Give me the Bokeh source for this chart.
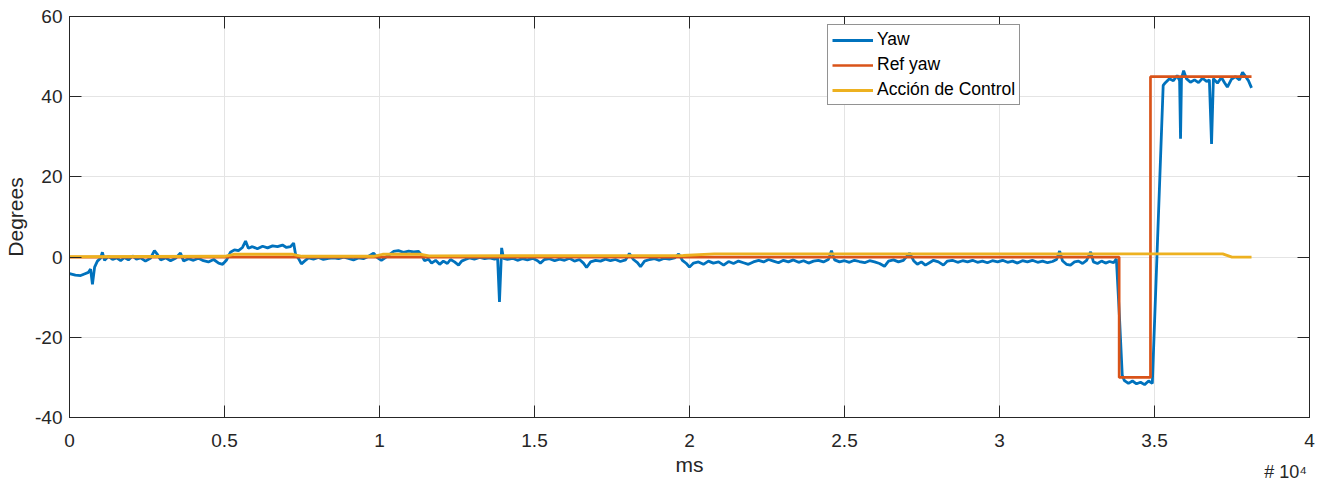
from bokeh.plotting import figure
from bokeh.models import (FixedTicker, LinearAxis, Legend, LegendItem, Range1d)
from bokeh.embed import file_html
from bokeh.resources import INLINE

# ---- data (ms, degrees) ----
yaw_t = [0, 190, 360, 480, 610, 680, 740, 810, 900, 1000, 1060, 1130, 1260, 1390, 1520,
         1650, 1770, 1900, 2030, 2160, 2290, 2450, 2610, 2740, 2840, 2940, 3100, 3260,
         3420, 3580, 3680, 3840, 4000, 4160, 4320, 4480, 4650, 4810, 4940, 5060, 5190,
         5320, 5450, 5580, 5680, 5770, 5900, 6060, 6230, 6390, 6550, 6710, 6870, 7000,
         7130, 7230, 7290, 7390, 7480, 7580, 7710, 7870, 8030, 8190, 8350, 8520, 8680,
         8840, 9000, 9160, 9320, 9480, 9650, 9810, 9940, 10060, 10190, 10320, 10450,
         10610, 10770, 10940, 11100, 11260, 11350, 11450, 11580, 11680, 11810, 11940,
         12060, 12190, 12290, 12420, 12550, 12650, 12770, 12900, 13060, 13230, 13390,
         13550, 13710, 13810, 13870, 13940, 14000, 14130, 14290, 14450, 14610, 14770,
         14940, 15100, 15190, 15320, 15480, 15650, 15810, 15970, 16130, 16290, 16450,
         16580, 16680, 16810, 16970, 17130, 17290, 17450, 17610, 17770, 17940, 18060,
         18190, 18320, 18420, 18550, 18710, 18870, 19030, 19190, 19350, 19520, 19650,
         19770, 19900, 20000, 20130, 20290, 20450, 20610, 20770, 20940, 21100, 21260,
         21420, 21580, 21740, 21900, 22060, 22230, 22390, 22550, 22710, 22870, 23030,
         23190, 23350, 23520, 23680, 23840, 24000, 24160, 24320, 24480, 24580, 24680,
         24840, 25000, 25160, 25320, 25480, 25650, 25810, 25970, 26130, 26290, 26420,
         26580, 26740, 26900, 27100, 27230, 27350, 27480, 27610, 27740, 27870, 28030,
         28190, 28320, 28480, 28650, 28810, 28970, 29130, 29290, 29450, 29610, 29770,
         29940, 30100, 30260, 30420, 30580, 30740, 30900, 31060, 31230, 31390, 31550,
         31710, 31840, 31940, 32030, 32160, 32290, 32420, 32550, 32680, 32810, 32940,
         33030, 33160, 33290, 33420, 33550, 33680, 33770, 33870, 33960, 34030, 34160,
         34290, 34420, 34550, 34680, 34810, 34930, 35280, 35350, 35480, 35610, 35730,
         35810, 35840, 35870, 35940, 36030, 36160, 36290, 36420, 36550, 36680, 36770,
         36840, 36900, 37030, 37160, 37260, 37350, 37480, 37610, 37740, 37840, 37940,
         38030, 38130]
yaw_v = [-4.1, -4.5, -4.6, -4.2, -3.8, -3.0, -6.8, -2.5, -1.0, -0.3, 1.2, -0.8, 0.2, -0.6, -0.2,
         -0.9, -0.1, -0.7, 0.3, -0.5, -0.2, -1.0, -0.3, 1.6, 0.6, -0.7, -0.2, -0.9,
         -0.3, 1.0, -1.0, -0.4, -0.8, -0.3, -0.9, -1.2, -0.6, -1.5, -1.8, -0.8, 1.2,
         1.8, 1.6, 2.4, 4.0, 2.2, 2.6, 2.1, 2.7, 2.3, 2.8, 2.6, 3.0, 2.4,
         2.6, 3.5, 0.8, -0.4, -1.7, -1.0, -0.2, -0.5, -0.1, -0.6, -0.3, -0.2, -0.4,
         0.0, -0.3, -0.7, -0.2, -0.4, 0.2, 1.0, -0.2, -0.8, -0.1, 0.6, 1.4,
         1.6, 1.2, 1.5, 1.3, 1.4, 0.6, -0.9, -0.5, -1.5, -0.8, -1.8,
         -1.0, -1.6, -0.6, -1.2, -2.0, -1.0, -0.6, -0.2, -0.5, -0.1, -0.4,
         -0.2, -0.5, -0.3, -11.2, 2.3, -0.3, -0.6, -0.3, -0.8, -0.4, -0.7,
         -0.3, -0.9, -1.5, -0.6, -0.4, -0.9, -0.5, -0.8, -0.3, -1.0, -0.6,
         -1.5, -2.6, -1.2, -0.8, -1.0, -0.5, -0.9, -0.6, -1.1, -0.7, 0.9,
         -0.6, -1.4, -2.4, -1.0, -0.6, -0.4, -0.8, -0.3, -0.5, -0.2, 0.8,
         -0.8, -1.6, -2.5, -1.5, -1.2, -1.8, -1.0, -1.5, -1.2, -2.0, -1.1,
         -1.6, -1.0, -1.4, -1.8, -1.2, -0.8, -1.2, -0.6, -1.0, -1.4, -0.8,
         -1.2, -0.7, -1.3, -0.9, -1.5, -1.0, -0.8, -1.2, -0.6, 1.6, -0.7,
         -1.2, -0.9, -1.3, -0.8, -1.1, -1.4, -0.9, -1.2, -1.6, -2.3, -1.0,
         -0.7, -1.2, -0.8, 1.0, -0.9, -1.8, -1.2, -2.0, -1.4, -0.8, -1.2,
         -2.0, -1.0, -0.8, -1.3, -0.9, -1.2, -0.8, -1.3, -1.0, -1.4, -0.9,
         -1.2, -0.8, -1.3, -1.0, -1.5, -0.9, -1.2, -0.8, -1.3, -1.0, -1.4,
         -1.1, -0.6, 1.5, -0.9, -1.8, -2.0, -1.2, -1.0, -1.6, -0.8, 1.3,
         -1.2, -1.6, -1.0, -1.5, -1.1, -1.4, -0.4, -15.0, -29.5, -30.8, -31.5,
         -30.9, -31.6, -31.2, -31.8, -30.9, -31.5, 42.8, 43.5, 44.5, 44.0, 45.3,
         44.0, 29.5, 44.5, 46.5, 44.5, 43.6, 44.2, 43.5, 44.6, 43.8, 44.2,
         28.2, 44.5, 43.4, 44.8, 43.5, 42.4, 44.3, 45.0, 44.2, 46.1, 45.0,
         44.0, 42.2]

ref_t = [0, 33860, 33860, 34870, 34870, 38130]
ref_v = [0, 0, -30, -30, 45, 45]

ctrl_t = [0, 5000, 5300, 7200, 7500, 9800, 10100, 11300, 11600, 19800, 20800, 37200, 37500, 38130]
ctrl_v = [0.1, 0.2, 0.7, 0.7, 0.2, 0.2, 0.7, 0.7, 0.3, 0.4, 0.8, 0.8, 0.0, 0.0]

x_ticks = [0, 5000, 10000, 15000, 20000, 25000, 30000, 35000, 40000]
x_tick_labels = ["0", "0.5", "1", "1.5", "2", "2.5", "3", "3.5", "4"]
y_ticks = [-40, -20, 0, 20, 40, 60]
y_tick_labels = ["-40", "-20", "0", "20", "40", "60"]
x_exponent_text = "# 10\u2074"
x_exponent_pos = [39230]

x_title = "ms"
y_title = "Degrees"
series_names = ["Yaw", "Ref yaw", "Acción de Control"]
series_colors = ["#0072BD", "#D95319", "#EDB120"]

FONT = "Liberation Sans"
AX = "#262626"

p = figure(width=1325, height=484, output_backend="svg", toolbar_location=None,
           x_range=Range1d(0, 40000), y_range=Range1d(-40, 60),
           min_border_left=69, min_border_right=16, min_border_top=16, min_border_bottom=67)
p.outline_line_color = AX
p.outline_line_width = 1
p.background_fill_color = "white"
p.border_fill_color = "white"

r1 = p.line(yaw_t, yaw_v, color=series_colors[0], line_width=2.8)
r2 = p.line(ref_t, ref_v, color=series_colors[1], line_width=2.7)
r3 = p.line(ctrl_t, ctrl_v, color=series_colors[2], line_width=2.9)

xt = FixedTicker(ticks=x_ticks)
yt = FixedTicker(ticks=y_ticks)

xa = p.xaxis[0]
xa.ticker = xt
xa.major_label_overrides = {t: l for t, l in zip(x_ticks, x_tick_labels)}
xa.axis_label = x_title
ya = p.yaxis[0]
ya.ticker = yt
ya.major_label_overrides = {t: l for t, l in zip(y_ticks, y_tick_labels)}
ya.axis_label = y_title

for ax in (xa, ya):
    ax.major_tick_in = 12
    ax.major_tick_out = 0
    ax.minor_tick_in = 0
    ax.minor_tick_out = 0
    ax.axis_line_color = AX
    ax.major_tick_line_color = AX
    ax.major_label_text_font = FONT
    ax.major_label_text_font_size = "19px"
    ax.major_label_text_color = AX
    ax.axis_label_text_font = FONT
    ax.axis_label_text_font_size = "21px"
    ax.axis_label_text_font_style = "normal"
    ax.axis_label_text_color = AX
xa.major_label_standoff = 16
xa.axis_label_standoff = 3
ya.major_label_standoff = 7
ya.axis_label_standoff = 5

for loc, tk in (("above", xt), ("right", yt)):
    a = LinearAxis(ticker=tk, major_tick_in=12, major_tick_out=0, minor_tick_in=0, minor_tick_out=0,
                   axis_line_color=AX, major_tick_line_color=AX, major_label_text_font_size="0px",
                   major_label_text_color=None, major_label_standoff=0)
    p.add_layout(a, loc)

# exponent of the x axis, as the label of an extra tick-less axis below
ex = LinearAxis(ticker=FixedTicker(ticks=x_exponent_pos),
                major_label_overrides={x_exponent_pos[0]: x_exponent_text},
                major_tick_in=0, major_tick_out=0, minor_tick_in=0, minor_tick_out=0,
                axis_line_color=None, major_label_text_font=FONT, major_label_text_font_size="18px",
                major_label_text_color=AX, major_label_standoff=-17)
p.add_layout(ex, "below")

p.xgrid.ticker = xt
p.ygrid.ticker = yt
p.xgrid.grid_line_color = "#e4e4e4"
p.ygrid.grid_line_color = "#e4e4e4"

legend = Legend(items=[LegendItem(label=series_names[0], renderers=[r1]),
                       LegendItem(label=series_names[1], renderers=[r2]),
                       LegendItem(label=series_names[2], renderers=[r3])],
                location=(758, 312), orientation="vertical",
                label_text_font=FONT, label_text_font_size="17.5px", label_text_color="black",
                glyph_width=41, glyph_height=20, label_height=20, spacing=4, padding=4,
                label_standoff=4, margin=0,
                border_line_color=AX, border_line_width=1, background_fill_color="white",
                background_fill_alpha=1.0)
p.add_layout(legend)

open("out.html", "w").write(file_html(p, INLINE))
